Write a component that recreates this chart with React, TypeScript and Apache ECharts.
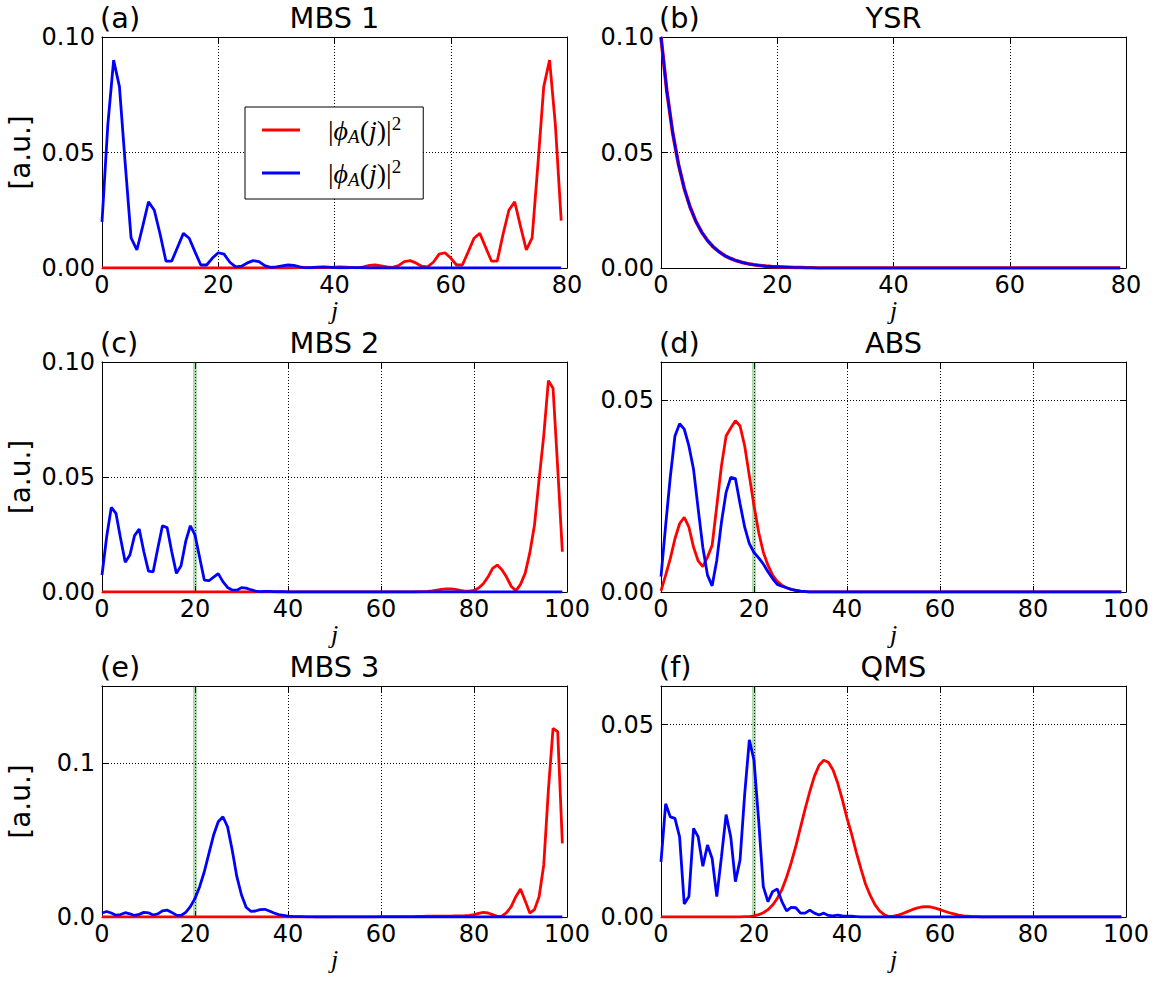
import React, { useEffect, useRef } from "react";
import * as echarts from "echarts";

// ---- site-resolved weights |phi(j)|^2, one value per site j ----

// (a) MBS 1, 80 sites
const MBS1_RED = [
  0, 0, 0, 0, 0, 0, 0, 0, 0, 0,
  0, 0, 0, 0, 0, 0, 0, 0, 0, 0,
  0, 0, 0, 0, 0, 0, 0, 0, 0, 0,
  0, 0, 0, 0.0001, 0.0002, 0.0002, 0.0001, 0.0001, 0.0002, 0.0002,
  0.0004, 0.0005, 0.0004, 0.0002, 0.0001, 0.0005, 0.0011, 0.0013, 0.0009, 0.0005,
  0.0003, 0.001, 0.0028, 0.0032, 0.0022, 0.0008, 0.0005, 0.0025, 0.006, 0.0066,
  0.0043, 0.0013, 0.0013, 0.007, 0.0129, 0.015, 0.009, 0.003, 0.003, 0.0146,
  0.025, 0.0287, 0.018, 0.0078, 0.013, 0.045, 0.0785, 0.09, 0.062, 0.0205,
];
const MBS1_BLUE = [
  0.02, 0.062, 0.09, 0.0785, 0.045, 0.013, 0.0078, 0.018, 0.0287, 0.025,
  0.0146, 0.003, 0.003, 0.009, 0.015, 0.0129, 0.007, 0.0013, 0.0013, 0.0043,
  0.0066, 0.006, 0.0025, 0.0005, 0.0008, 0.0022, 0.0032, 0.0028, 0.001, 0.0003,
  0.0005, 0.0009, 0.0013, 0.0011, 0.0005, 0.0001, 0.0002, 0.0004, 0.0005, 0.0004,
  0.0002, 0.0001, 0.0001, 0.0002, 0.0002, 0.0001, 0, 0, 0, 0,
  0, 0, 0, 0, 0, 0, 0, 0, 0, 0,
  0, 0, 0, 0, 0, 0, 0, 0, 0, 0,
  0, 0, 0, 0, 0, 0, 0, 0, 0, 0,
];

// (b) YSR, 80 sites
const YSR_RED = [
  0.1, 0.0766, 0.0587, 0.045, 0.0344, 0.0264, 0.0202, 0.0155, 0.0119, 0.0091,
  0.007, 0.0053, 0.0041, 0.0031, 0.0024, 0.0018, 0.0014, 0.0011, 0.0008, 0.0006,
  0.0005, 0.0004, 0.0003, 0.0002, 0.0002, 0.0001, 0.0001, 0, 0, 0,
  0, 0, 0, 0, 0, 0, 0, 0, 0, 0,
  0, 0, 0, 0, 0, 0, 0, 0, 0, 0,
  0, 0, 0, 0, 0, 0, 0, 0, 0, 0,
  0, 0, 0, 0, 0, 0, 0, 0, 0, 0,
  0, 0, 0, 0, 0, 0, 0, 0, 0, 0,
];
const YSR_BLUE = [
  0.1, 0.0766, 0.0587, 0.045, 0.0344, 0.0264, 0.0202, 0.0155, 0.0119, 0.0091,
  0.007, 0.0053, 0.0041, 0.0031, 0.0024, 0.0018, 0.0014, 0.0011, 0.0008, 0.0006,
  0.0005, 0.0004, 0.0003, 0.0002, 0.0002, 0.0001, 0.0001, 0, 0, 0,
  0, 0, 0, 0, 0, 0, 0, 0, 0, 0,
  0, 0, 0, 0, 0, 0, 0, 0, 0, 0,
  0, 0, 0, 0, 0, 0, 0, 0, 0, 0,
  0, 0, 0, 0, 0, 0, 0, 0, 0, 0,
  0, 0, 0, 0, 0, 0, 0, 0, 0, 0,
];

// (c) MBS 2, 100 sites
const MBS2_RED = [
  0, 0, 0, 0, 0, 0, 0, 0, 0, 0,
  0, 0, 0, 0, 0, 0, 0, 0, 0, 0,
  0, 0, 0, 0, 0, 0, 0, 0, 0, 0,
  0, 0, 0, 0, 0, 0, 0, 0, 0, 0,
  0, 0, 0, 0, 0, 0, 0, 0, 0, 0,
  0, 0, 0, 0, 0, 0, 0, 0, 0, 0,
  0, 0, 0, 0, 0, 0, 0, 0, 0.0001, 0.0002,
  0.0003, 0.0005, 0.0008, 0.0011, 0.0013, 0.0013, 0.0011, 0.0007, 0.0004, 0.0004,
  0.0007, 0.0017, 0.0036, 0.0065, 0.0103, 0.0117, 0.0097, 0.0065, 0.0025, 0.0005,
  0.0033, 0.0081, 0.017, 0.029, 0.049, 0.068, 0.0919, 0.0886, 0.054, 0.0175,
];
const MBS2_BLUE = [
  0.0074, 0.024, 0.0368, 0.0342, 0.0233, 0.0129, 0.0161, 0.0245, 0.0274, 0.0175,
  0.0091, 0.0088, 0.019, 0.0288, 0.028, 0.0175, 0.0081, 0.0114, 0.022, 0.0288,
  0.0248, 0.015, 0.0052, 0.0049, 0.0065, 0.008, 0.0045, 0.002, 0.0009, 0.0008,
  0.0019, 0.0017, 0.001, 0.0004, 0.0002, 0.0003, 0.0003, 0.0002, 0.0001, 0.0001,
  0, 0, 0, 0, 0, 0, 0, 0, 0, 0,
  0, 0, 0, 0, 0, 0, 0, 0, 0, 0,
  0, 0, 0, 0, 0, 0, 0, 0, 0, 0,
  0, 0, 0, 0, 0, 0, 0, 0, 0, 0,
  0, 0, 0, 0, 0, 0, 0, 0, 0, 0,
  0, 0, 0, 0, 0, 0, 0, 0, 0, 0,
];

// (d) ABS, 100 sites
const ABS_RED = [
  0.0003, 0.0044, 0.0087, 0.0139, 0.0178, 0.0195, 0.0169, 0.0117, 0.0081, 0.0066,
  0.0091, 0.0122, 0.0225, 0.0329, 0.0407, 0.0428, 0.0447, 0.0433, 0.0381, 0.0303,
  0.0225, 0.0156, 0.0104, 0.007, 0.0044, 0.0028, 0.0018, 0.0011, 0.0007, 0.0004,
  0.0002, 0.0001, 0, 0, 0, 0, 0, 0, 0, 0,
  0, 0, 0, 0, 0, 0, 0, 0, 0, 0,
  0, 0, 0, 0, 0, 0, 0, 0, 0, 0,
  0, 0, 0, 0, 0, 0, 0, 0, 0, 0,
  0, 0, 0, 0, 0, 0, 0, 0, 0, 0,
  0, 0, 0, 0, 0, 0, 0, 0, 0, 0,
  0, 0, 0, 0, 0, 0, 0, 0, 0, 0,
];
const ABS_BLUE = [
  0.004, 0.0174, 0.03, 0.0407, 0.0439, 0.0425, 0.0381, 0.032, 0.0216, 0.0116,
  0.0044, 0.0016, 0.0083, 0.0182, 0.026, 0.0299, 0.0296, 0.023, 0.0169, 0.0126,
  0.0103, 0.0089, 0.0073, 0.0053, 0.0035, 0.002, 0.0015, 0.0011, 0.0007, 0.0004,
  0.0002, 0.0001, 0, 0, 0, 0, 0, 0, 0, 0,
  0, 0, 0, 0, 0, 0, 0, 0, 0, 0,
  0, 0, 0, 0, 0, 0, 0, 0, 0, 0,
  0, 0, 0, 0, 0, 0, 0, 0, 0, 0,
  0, 0, 0, 0, 0, 0, 0, 0, 0, 0,
  0, 0, 0, 0, 0, 0, 0, 0, 0, 0,
  0, 0, 0, 0, 0, 0, 0, 0, 0, 0,
];

// (e) MBS 3, 100 sites
const MBS3_RED = [
  0, 0, 0, 0, 0, 0, 0, 0, 0, 0,
  0, 0, 0, 0, 0, 0, 0, 0, 0, 0,
  0, 0, 0, 0, 0, 0, 0, 0, 0, 0,
  0, 0, 0, 0, 0, 0, 0, 0, 0, 0,
  0, 0, 0, 0, 0, 0, 0, 0, 0, 0,
  0.0001, 0.0001, 0.0001, 0.0001, 0.0001, 0.0001, 0.0001, 0.0001, 0.0001, 0.0001,
  0.0002, 0.0002, 0.0002, 0.0002, 0.0003, 0.0003, 0.0003, 0.0003, 0.0004, 0.0004,
  0.0005, 0.0005, 0.0005, 0.0006, 0.0006, 0.0006, 0.0007, 0.0007, 0.0008, 0.001,
  0.0015, 0.0024, 0.003, 0.0026, 0.0015, 0.0004, 0.0006, 0.0028, 0.0067, 0.0132,
  0.0182, 0.0106, 0.0026, 0.0048, 0.0132, 0.0338, 0.0825, 0.1225, 0.1203, 0.0478,
];
const MBS3_BLUE = [
  0.0026, 0.0036, 0.0026, 0.0012, 0.0016, 0.0028, 0.0021, 0.001, 0.0017, 0.003,
  0.0027, 0.0013, 0.002, 0.004, 0.0045, 0.003, 0.0012, 0.001, 0.003, 0.0067,
  0.0121, 0.0197, 0.0294, 0.0413, 0.0532, 0.0619, 0.0651, 0.0586, 0.0435, 0.0262,
  0.0143, 0.0063, 0.0037, 0.0039, 0.0048, 0.005, 0.0039, 0.0026, 0.0015, 0.0011,
  0.0006, 0.0004, 0.0003, 0.0002, 0.0001, 0.0001, 0, 0, 0, 0,
  0, 0, 0, 0, 0, 0, 0, 0, 0, 0,
  0, 0, 0, 0, 0, 0, 0, 0, 0, 0,
  0, 0, 0, 0, 0, 0, 0, 0, 0, 0,
  0, 0, 0, 0, 0, 0, 0, 0, 0, 0,
  0, 0, 0, 0, 0, 0, 0, 0, 0, 0,
];

// (f) QMS, 100 sites
const QMS_RED = [
  0, 0, 0, 0, 0, 0, 0, 0, 0, 0,
  0, 0, 0, 0, 0, 0, 0, 0, 0.0001, 0.0001,
  0.0003, 0.0006, 0.0011, 0.0019, 0.0031, 0.0048, 0.0071, 0.0103, 0.0141, 0.0184,
  0.0233, 0.0281, 0.0326, 0.0366, 0.0394, 0.0407, 0.0402, 0.0382, 0.0348, 0.0305,
  0.0257, 0.0215, 0.0168, 0.0125, 0.0085, 0.0056, 0.0032, 0.0016, 0.0006, 0.0001,
  0.0002, 0.0005, 0.0009, 0.0014, 0.0019, 0.0023, 0.0026, 0.0027, 0.0026, 0.0023,
  0.0019, 0.0015, 0.0011, 0.0008, 0.0005, 0.0003, 0.0002, 0.0001, 0.0001, 0,
  0, 0, 0, 0, 0, 0, 0, 0, 0, 0,
  0, 0, 0, 0, 0, 0, 0, 0, 0, 0,
  0, 0, 0, 0, 0, 0, 0, 0, 0, 0,
];
const QMS_BLUE = [
  0.0143, 0.0294, 0.026, 0.0256, 0.0208, 0.0034, 0.0053, 0.023, 0.0208, 0.0132,
  0.0187, 0.0152, 0.0053, 0.0156, 0.0266, 0.0208, 0.0092, 0.0148, 0.032, 0.046,
  0.0407, 0.0251, 0.0079, 0.004, 0.0066, 0.0073, 0.004, 0.0016, 0.0025, 0.0024,
  0.001, 0.001, 0.0018, 0.001, 0.0005, 0.001, 0.0004, 0.0003, 0.0005, 0.0003,
  0.0002, 0.0002, 0.0001, 0, 0, 0, 0, 0, 0, 0,
  0, 0, 0, 0, 0, 0, 0, 0, 0, 0,
  0, 0, 0, 0, 0, 0, 0, 0, 0, 0,
  0, 0, 0, 0, 0, 0, 0, 0, 0, 0,
  0, 0, 0, 0, 0, 0, 0, 0, 0, 0,
  0, 0, 0, 0, 0, 0, 0, 0, 0, 0,
];

// panel titles, tags and axis settings
const TITLES = ["MBS 1", "YSR", "MBS 2", "ABS", "MBS 3", "QMS"];
const TAGS = ["(a)", "(b)", "(c)", "(d)", "(e)", "(f)"];
const RED_SERIES = [MBS1_RED, YSR_RED, MBS2_RED, ABS_RED, MBS3_RED, QMS_RED];
const BLUE_SERIES = [MBS1_BLUE, YSR_BLUE, MBS2_BLUE, ABS_BLUE, MBS3_BLUE, QMS_BLUE];
const X_MAX = [80, 80, 100, 100, 100, 100];
const X_STEP = 20;
const Y_MAX = [0.1, 0.1, 0.1, 0.06, 0.15, 0.06];
const Y_STEP = [0.05, 0.05, 0.05, 0.05, 0.1, 0.05];
const Y_DIGITS = [2, 2, 2, 2, 1, 2];
// interface site marked by a green line (null = none)
const BOUNDARY = [null, null, 20, 20, 20, 20];
const Y_LABEL = "[a.u.]";
const X_LABEL = "j";

// layout
const COL_LEFT = [102, 661];
const ROW_TOP = [37, 362, 686];
const PLOT_W = 465;
const PLOT_H = [231, 230, 231];

const RED = "#ff0000";
const BLUE = "#0000ff";
const FONT = '"DejaVu Sans", sans-serif';
const MATH_FONT = '"Liberation Serif", "DejaVu Serif", serif';

function buildOption() {
  const grids: any[] = [];
  const xAxes: any[] = [];
  const yAxes: any[] = [];
  const series: any[] = [];
  const graphics: any[] = [];

  const gridLine = { show: true, lineStyle: { color: "#000", type: [1, 2], width: 1 } };
  const axisLine = { show: true, onZero: false, lineStyle: { color: "#000", width: 1 } };
  const tick = { show: true, inside: true, length: 6, lineStyle: { color: "#000", width: 1 } };

  for (let i = 0; i < 6; i++) {
    const col = i % 2;
    const row = Math.floor(i / 2);
    const left = COL_LEFT[col];
    const top = ROW_TOP[row];
    const h = PLOT_H[row];
    grids.push({ left, top, width: PLOT_W, height: h, containLabel: false });

    xAxes.push({
      type: "value",
      gridIndex: i,
      position: "bottom",
      min: 0,
      max: X_MAX[i],
      interval: X_STEP,
      axisLine,
      axisTick: tick,
      splitLine: gridLine,
      axisLabel: { color: "#000", fontFamily: FONT, fontSize: 24, margin: 5 },
      name: X_LABEL,
      nameLocation: "middle",
      nameGap: 14,
      nameTextStyle: { color: "#000", fontFamily: MATH_FONT, fontStyle: "italic", fontSize: 26 },
    });
    const digits = Y_DIGITS[i];
    const step = Y_STEP[i];
    yAxes.push({
      type: "value",
      gridIndex: i,
      position: "left",
      min: 0,
      max: Y_MAX[i],
      interval: step,
      axisLine,
      axisTick: tick,
      splitLine: gridLine,
      axisLabel: {
        color: "#000",
        fontFamily: FONT,
        fontSize: 24,
        margin: 7,
        formatter: (v: number) => {
          const k = v / step;
          return Math.abs(k - Math.round(k)) < 1e-6 ? v.toFixed(digits) : "";
        },
      },
    });

    const data = (arr: number[]) => arr.map((v, j) => [j, v]);
    const bnd = BOUNDARY[i];
    series.push({
      type: "line",
      name: "red",
      xAxisIndex: i,
      yAxisIndex: i,
      data: data(RED_SERIES[i]),
      color: RED,
      showSymbol: false,
      symbol: "none",
      silent: true,
      z: 2,
      lineStyle: { color: RED, width: i === 1 ? 3.6 : 2.8 },
      markLine: bnd == null ? undefined : {
        silent: true,
        z: 1,
        symbol: ["none", "none"],
        label: { show: false },
        lineStyle: { color: "rgba(0,128,0,0.3)", width: 4, type: "solid" },
        data: [{ xAxis: bnd }],
      },
    });
    series.push({
      type: "line",
      name: "blue",
      xAxisIndex: i,
      yAxisIndex: i,
      data: data(BLUE_SERIES[i]),
      color: BLUE,
      showSymbol: false,
      symbol: "none",
      silent: true,
      z: 3,
      lineStyle: { color: BLUE, width: i === 1 ? 2.6 : 2.8 },
    });

    // panel title and tag
    graphics.push({
      type: "text",
      x: left + PLOT_W / 2,
      y: top - 19,
      style: { text: TITLES[i], fill: "#000", font: `28.8px ${FONT}`, textAlign: "center", textVerticalAlign: "middle" },
    });
    graphics.push({
      type: "text",
      x: left - 2,
      y: top - 19,
      style: { text: TAGS[i], fill: "#000", font: `28.8px ${FONT}`, textAlign: "left", textVerticalAlign: "middle" },
    });
    if (col === 0) {
      graphics.push({
        type: "text",
        x: 20,
        y: top + h / 2,
        rotation: Math.PI / 2,
        style: { text: Y_LABEL, fill: "#000", font: `28px ${FONT}`, textAlign: "center", textVerticalAlign: "middle" },
      });
    }
  }

  // mirror axes on the top and right for the frame and inward ticks
  for (let i = 0; i < 6; i++) {
    xAxes.push({
      type: "value",
      gridIndex: i,
      position: "top",
      min: 0,
      max: X_MAX[i],
      interval: X_STEP,
      axisLine,
      axisTick: tick,
      splitLine: { show: false },
      axisLabel: { show: false },
    });
    yAxes.push({
      type: "value",
      gridIndex: i,
      position: "right",
      min: 0,
      max: Y_MAX[i],
      interval: Y_STEP[i],
      axisLine,
      axisTick: tick,
      splitLine: { show: false },
      axisLabel: { show: false },
    });
  }

  const entry = "{n||}{i|ϕ}{s|A}{n|(}{i|j}{n|)|}{p|2}";

  return {
    animation: false,
    backgroundColor: "#fff",
    grid: grids,
    xAxis: xAxes,
    yAxis: yAxes,
    series,
    graphic: graphics,
    legend: {
      show: true,
      orient: "vertical",
      left: 245,
      top: 107,
      data: ["red", "blue"],
      icon: "rect",
      itemWidth: 38,
      itemHeight: 3,
      itemGap: 11,
      selectedMode: false,
      backgroundColor: "#fff",
      borderColor: "#000",
      borderWidth: 1,
      borderRadius: 0,
      padding: [7, 22, 10, 17],
      formatter: () => entry,
      textStyle: {
        color: "#000",
        padding: [0, 0, 0, 23],
        rich: {
          n: { fontFamily: MATH_FONT, fontSize: 28, lineHeight: 32, color: "#000" },
          i: { fontFamily: MATH_FONT, fontSize: 28, fontStyle: "italic", lineHeight: 32, color: "#000" },
          s: { fontFamily: MATH_FONT, fontSize: 19, fontStyle: "italic", lineHeight: 17, verticalAlign: "bottom", color: "#000" },
          p: { fontFamily: MATH_FONT, fontSize: 19, lineHeight: 16, verticalAlign: "top", color: "#000" },
        },
      },
    },
  };
}

export default function App() {
  const ref = useRef<HTMLDivElement>(null);
  useEffect(() => {
    if (!ref.current) return;
    const chart = echarts.init(ref.current, undefined, { renderer: "svg" });
    chart.setOption(buildOption() as any);
    return () => chart.dispose();
  }, []);
  return (
    <div
      ref={ref}
      style={{ position: "absolute", left: 0, top: 0, width: 1157, height: 982, background: "#fff" }}
    />
  );
}
